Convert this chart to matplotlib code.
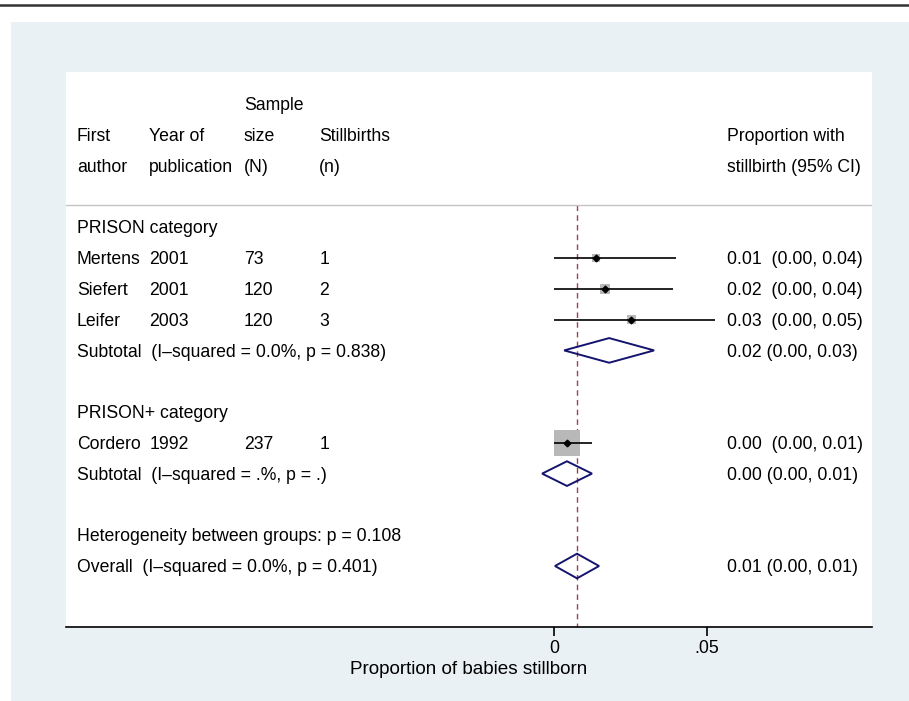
import matplotlib
matplotlib.use("Agg")
import matplotlib.pyplot as plt
from matplotlib.patches import Polygon, Rectangle
from matplotlib.lines import Line2D
from matplotlib.transforms import blended_transform_factory

# ---- study data ----
authors = ["Mertens", "Siefert", "Leifer", "Cordero"]
years = [2001, 2001, 2003, 1992]
sample_n = [73, 120, 120, 237]
stillbirths = [1, 2, 3, 1]
study_group = ["PRISON", "PRISON", "PRISON", "PRISON+"]
es = [0.0137, 0.0167, 0.0252, 0.0042]
ci_lo = [0.0, 0.0, 0.0, 0.0]
ci_hi = [0.0400, 0.0390, 0.0526, 0.0124]
weights = [7.0, 10.0, 9.0, 74.0]

# ---- pooled estimates ----
groups = ["PRISON", "PRISON+"]
group_titles = ["PRISON category", "PRISON+ category"]
sub_es = [0.0180, 0.0042]
sub_lo = [0.0033, -0.0039]
sub_hi = [0.0327, 0.0124]
sub_i2 = ["0.0", "."]
sub_p = ["0.838", "."]
het_between_p = "0.108"
overall_es, overall_lo, overall_hi = 0.0075, 0.0003, 0.0147
overall_i2, overall_p = "0.0", "0.401"

xticks = [0, 0.05]
xtick_labels = ["0", ".05"]


def fmt(v):
    return f"{round(v, 2) + 0.0:.2f}"


plt.rcParams['font.family'] = ['Liberation Sans', 'DejaVu Sans']
FS = 12.7
W, H = 909, 701
fig = plt.figure(figsize=(W / 100, H / 100), dpi=100)
fig.patch.set_facecolor("white")

# outer tinted panel and rule on top
panel = Rectangle((11 / W, 0), 1 - 11 / W, (H - 22) / H,
                  transform=fig.transFigure, facecolor="#e9f1f4",
                  edgecolor="none", zorder=-5)
fig.add_artist(panel)
fig.add_artist(Line2D([0, 1], [1 - 5 / H] * 2, transform=fig.transFigure,
                      color="#333333", lw=1.8))

ax = fig.add_axes([66 / W, (H - 627) / H, 806 / W, 555 / H])
ax.set_zorder(1)
ax.set_facecolor("white")
ax.set_xlim(-0.1595, 0.1039)
YMAX, YMIN = 16.98, -1.039
ax.set_ylim(YMAX, YMIN)
for s in ["top", "left", "right"]:
    ax.spines[s].set_visible(False)
ax.spines["bottom"].set_linewidth(1.2)
ax.set_yticks([])
ax.set_xticks(xticks)
ax.set_xticklabels(xtick_labels, fontsize=12.8)
ax.tick_params(axis="x", length=6.5, width=1.2, pad=3)
ax.set_xlabel("Proportion of babies stillborn", fontsize=13.6, labelpad=3)

tr = blended_transform_factory(ax.transAxes, ax.transData)
cols = [0.0136, 0.1035, 0.2206, 0.3143, 0.8201]
BASE = 0.2  # baseline offset from row centre


def txt(col, row, s):
    ax.text(cols[col], row + BASE, s, transform=tr, fontsize=FS,
            va="baseline", ha="left", color="black")


# header
txt(2, 0, "Sample")
for c, s in enumerate(["First", "Year of", "size", "Stillbirths", "Proportion with"]):
    txt(c, 1, s)
for c, s in enumerate(["author", "publication", "(N)", "(n)", "stillbirth (95% CI)"]):
    txt(c, 2, s)
SEP = 3.28
ax.plot([0, 1], [SEP, SEP], transform=tr, color="#c4c4c4", lw=1.0)

# null/overall reference line
ax.plot([overall_es, overall_es], [SEP, YMAX], color="#a3404c", lw=1.0,
        dashes=(4, 3), zorder=1)


def diamond(row, e, lo, hi):
    ax.add_patch(Polygon([(lo, row), (e, row - 0.4), (hi, row), (e, row + 0.4)],
                         closed=True, fill=False, edgecolor="#14146e", lw=1.4,
                         zorder=3))


row = 4
for g, gname in enumerate(groups):
    txt(0, row, group_titles[g])
    row += 1
    for i in range(len(authors)):
        if study_group[i] != gname:
            continue
        txt(0, row, authors[i])
        txt(1, row, str(years[i]))
        txt(2, row, str(sample_n[i]))
        txt(3, row, str(stillbirths[i]))
        txt(4, row, f"{fmt(es[i])}  ({fmt(ci_lo[i])}, {fmt(ci_hi[i])})")
        side = 3.03 * weights[i] ** 0.5 * 0.72
        ax.scatter([es[i]], [row], marker="s", s=side ** 2, color="#b8b8b8",
                   edgecolors="none", zorder=2)
        ax.hlines(row, ci_lo[i], ci_hi[i], color="black", lw=1.2, zorder=3)
        ax.plot([es[i]], [row], marker="D", ms=3.4, color="black", zorder=4)
        row += 1
    txt(0, row, f"Subtotal  (I\u2013squared = {sub_i2[g]}%, p = {sub_p[g]})")
    txt(4, row, f"{fmt(sub_es[g])} ({fmt(sub_lo[g])}, {fmt(sub_hi[g])})")
    diamond(row, sub_es[g], sub_lo[g], sub_hi[g])
    row += 2

txt(0, row, f"Heterogeneity between groups: p = {het_between_p}")
row += 1
txt(0, row, f"Overall  (I\u2013squared = {overall_i2}%, p = {overall_p})")
txt(4, row, f"{fmt(overall_es)} ({fmt(overall_lo)}, {fmt(overall_hi)})")
diamond(row, overall_es, overall_lo, overall_hi)

fig.savefig("out.png", dpi=100)
